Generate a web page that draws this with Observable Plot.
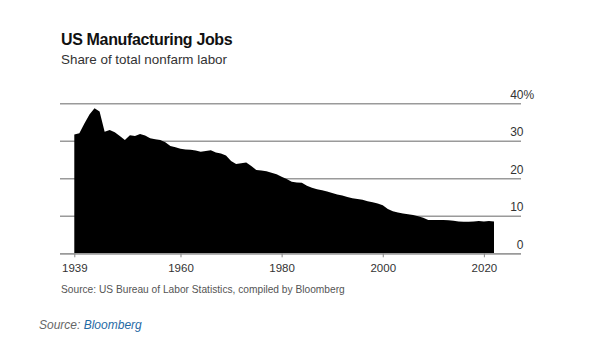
<!DOCTYPE html>
<html>
<head>
<meta charset="utf-8">
<script src="https://cdn.jsdelivr.net/npm/d3@7"></script>
<script src="https://cdn.jsdelivr.net/npm/@observablehq/plot@0.6"></script>
<style>
  html, body { margin: 0; padding: 0; background: #fff; }
  body { width: 600px; height: 358px; position: relative; overflow: hidden; font-family: "Liberation Sans", Arial, sans-serif; }
  #title { position: absolute; left: 61px; top: 31px; font-size: 16px; font-weight: bold; color: #111; letter-spacing: -0.35px; }
  #subtitle { position: absolute; left: 61px; top: 52px; font-size: 13.4px; color: #333; }
  #chart { position: absolute; left: 0; top: 80px; }
  #note { position: absolute; left: 61px; top: 284px; font-size: 10.2px; color: #555; }
  #source { position: absolute; left: 39px; top: 318px; font-size: 12px; font-style: italic; color: #666; }
  #source span { color: #1f6aa5; }
</style>
</head>
<body>
<div id="title">US Manufacturing Jobs</div>
<div id="subtitle">Share of total nonfarm labor</div>
<div id="chart"></div>
<div id="note">Source: US Bureau of Labor Statistics, compiled by Bloomberg</div>
<div id="source">Source: <span>Bloomberg</span></div>
<script>
const years = d3.range(1939, 2023);
const shares = [
  31.7, 32.0, 34.6, 37.0, 38.7, 37.8, 32.4, 32.9, 32.3, 31.3,
  30.2, 31.5, 31.3, 31.8, 31.4, 30.7, 30.4, 30.2, 29.6, 28.6,
  28.3, 27.9, 27.7, 27.6, 27.4, 27.1, 27.3, 27.5, 26.9, 26.6,
  26.1, 24.6, 23.8, 24.0, 24.2, 23.3, 22.2, 22.1, 21.9, 21.5,
  21.1, 20.4, 19.8, 19.1, 18.9, 18.8, 18.0, 17.5, 17.1, 16.8,
  16.5, 16.1, 15.7, 15.4, 15.0, 14.7, 14.5, 14.3, 13.9, 13.6,
  13.3, 12.8, 11.8, 11.2, 10.9, 10.6, 10.4, 10.2, 9.9, 9.5,
  8.9, 8.9, 8.9, 8.9, 8.8, 8.7, 8.5, 8.4, 8.4, 8.5,
  8.6, 8.5, 8.6, 8.5
];
const xTicks = [1939, 1960, 1980, 2000, 2020];
const yTicks = [0, 10, 20, 30, 40];
const yTickLabels = ["0", "10", "20", "30", "40"];

const data = years.map((y, i) => ({year: y, share: shares[i]}));
const yLabelData = yTicks.map((v, i) => ({v, label: yTickLabels[i]}));

const chart = Plot.plot({
  width: 600,
  height: 205,
  marginLeft: 60,
  marginRight: 79,
  marginTop: 23.3,
  marginBottom: 31.7,
  insetLeft: 14.3,
  insetRight: 27,
  style: {fontFamily: '"Liberation Sans", Arial, sans-serif', background: "transparent"},
  x: {domain: [1939, 2022], axis: null},
  y: {domain: [0, 40], axis: null},
  marks: [
    Plot.ruleY(yTicks, {stroke: "#9a9a9a", strokeWidth: 1.5}),
    Plot.areaY(data, {x: "year", y: "share", fill: "#000", curve: "linear"}),
    Plot.ruleY([0], {stroke: "#9a9a9a", strokeWidth: 1.5}),
    Plot.axisX({ticks: xTicks, tickFormat: d => String(d), tickSize: 4, tickPadding: 6, stroke: "#888", fontSize: 11.5, color: "#333", label: null}),
    Plot.text(yLabelData, {y: "v", text: "label", frameAnchor: "right", textAnchor: "end", dx: 2, dy: -9, fontSize: 12, fill: "#333"}),
    Plot.text(yLabelData.filter(d => d.v === 40), {y: "v", text: () => "%", frameAnchor: "right", textAnchor: "start", dx: 2, dy: -9, fontSize: 12, fill: "#333"})
  ]
});
document.getElementById("chart").appendChild(chart);
</script>
</body>
</html>
